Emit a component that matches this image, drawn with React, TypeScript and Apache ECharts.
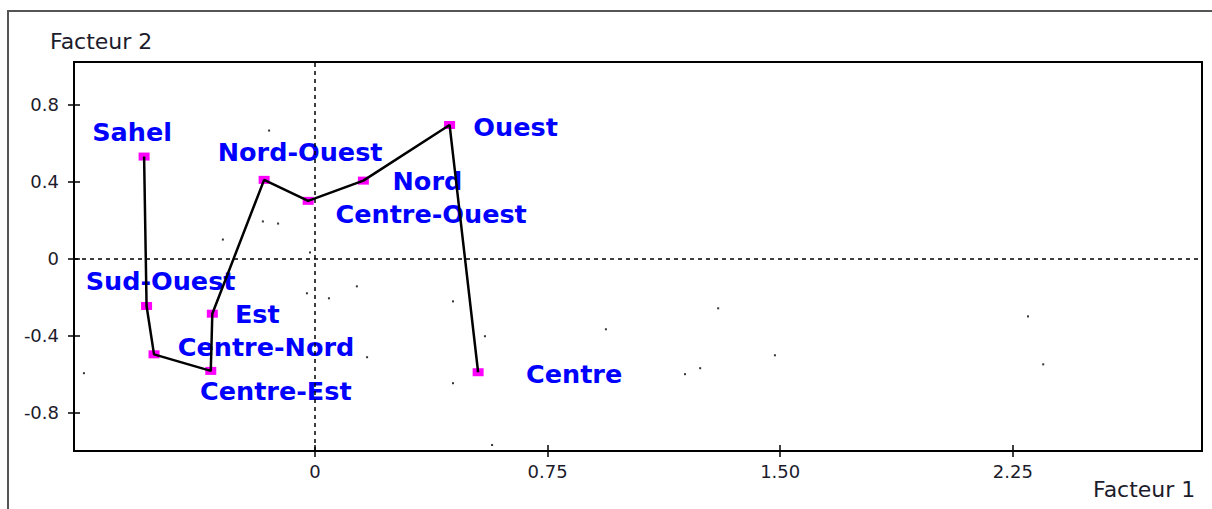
import React, { useEffect, useRef } from "react";
import * as echarts from "echarts";

const regionNames = ["Sahel", "Sud-Ouest", "Centre-Nord", "Centre-Est", "Est", "Nord-Ouest", "Centre-Ouest", "Nord", "Ouest", "Centre"];
const factor1 = [-0.551, -0.543, -0.519, -0.336, -0.331, -0.164, -0.022, 0.156, 0.434, 0.526];
const factor2 = [0.529, -0.247, -0.498, -0.584, -0.287, 0.408, 0.299, 0.404, 0.693, -0.591];

const dotsX = [-0.148, -0.168, -0.119, -0.297, -0.016, -0.026, 0.045, 0.135, 0.445, 0.168, -0.745, 0.445, 0.548, 0.938, 1.300, 1.483, 1.193, 1.242, 0.571, 2.299, 2.348];
const dotsY = [0.664, 0.192, 0.181, 0.098, 0.031, -0.181, -0.207, -0.145, -0.223, -0.513, -0.596, -0.648, -0.404, -0.368, -0.259, -0.503, -0.601, -0.570, -0.969, -0.301, -0.550];

const xTicks = [0, 0.75, 1.5, 2.25];
const xTickLabels = ["0", "0.75", "1.50", "2.25"];
const yTicks = [-0.8, -0.4, 0, 0.4, 0.8];
const yTickLabels = ["-0.8", "-0.4", "0", "0.4", "0.8"];

// label placement (pixel offsets from marker centre)
const labelOffsets: Record<string, [number, number]> = {
  "Sahel": [-12, -25],
  "Sud-Ouest": [14, -25],
  "Centre-Nord": [112, -7],
  "Centre-Est": [65, 20],
  "Est": [45, 0],
  "Nord-Ouest": [36, -28],
  "Centre-Ouest": [123, 13],
  "Nord": [64, 0],
  "Ouest": [66, 2],
  "Centre": [96, 2],
};

const FONT = "'DejaVu Sans', Arial, sans-serif";

export default function App() {
  const ref = useRef<HTMLDivElement>(null);
  useEffect(() => {
    document.body.style.margin = "0";
    const chart = echarts.init(ref.current!, undefined, { renderer: "svg" });
    const xMin = -0.777, xMax = 2.86, yMin = -1.0, yMax = 1.02;
    const axisLineStyle = { color: "#000", width: 2 };
    const labelStyle = { color: "#1c1c2c", fontSize: 18, fontFamily: FONT };

    const points = regionNames.map((n, i) => ({
      value: [factor1[i], factor2[i]],
      name: n,
      label: {
        show: true,
        formatter: n,
        position: "inside",
        offset: labelOffsets[n],
        align: "center",
        verticalAlign: "middle",
        color: "#0000ff",
        fontWeight: "bold",
        fontSize: 25.5,
        fontFamily: FONT,
      },
    }));

    chart.setOption({
      animation: false,
      backgroundColor: "#fff",
      grid: { left: 74, right: 10, top: 62, bottom: 58, show: true, borderColor: "#000", borderWidth: 2 },
      xAxis: [
        {
          type: "value", min: xMin, max: xMax, position: "bottom",
          splitLine: { show: false },
          axisLine: { show: true, onZero: false, lineStyle: axisLineStyle },
          axisTick: { show: true, customValues: xTicks, length: 6, lineStyle: { color: "#000", width: 1.5 } },
          axisLabel: {
            ...labelStyle, margin: 11, customValues: xTicks,
            formatter: (v: number) => xTickLabels[xTicks.findIndex((t) => Math.abs(t - v) < 1e-6)] ?? "",
          },
        },
        {
          type: "value", min: xMin, max: xMax, position: "bottom",
          splitLine: { show: false },
          axisLine: { show: false, onZero: false },
          axisTick: { show: true, inside: true, customValues: xTicks, length: 6, lineStyle: { color: "#000", width: 1.5 } },
          axisLabel: { show: false },
        },
      ],
      yAxis: [
        {
          type: "value", min: yMin, max: yMax, position: "left",
          splitLine: { show: false },
          axisLine: { show: true, onZero: false, lineStyle: axisLineStyle },
          axisTick: { show: true, customValues: yTicks, length: 6, lineStyle: { color: "#000", width: 1.5 } },
          axisLabel: {
            ...labelStyle, margin: 15, customValues: yTicks,
            formatter: (v: number) => yTickLabels[yTicks.findIndex((t) => Math.abs(t - v) < 1e-6)] ?? "",
          },
        },
        {
          type: "value", min: yMin, max: yMax, position: "left",
          splitLine: { show: false },
          axisLine: { show: false, onZero: false },
          axisTick: { show: true, inside: true, customValues: yTicks, length: 6, lineStyle: { color: "#000", width: 1.5 } },
          axisLabel: { show: false },
        },
      ],
      graphic: [
        { type: "rect", shape: { x: 8, y: 11, width: 1400, height: 700 }, style: { fill: "none", stroke: "#555", lineWidth: 2 }, silent: true },
        { type: "text", x: 50, y: 41, style: { text: "Facteur 2", fill: "#1c1c2c", font: `22px ${FONT}`, textVerticalAlign: "middle" } },
        { type: "text", x: 1093, y: 489, style: { text: "Facteur 1", fill: "#1c1c2c", font: `22px ${FONT}`, textVerticalAlign: "middle" } },
      ],
      series: [
        {
          type: "scatter", xAxisIndex: 0, yAxisIndex: 0,
          data: dotsX.map((x, i) => [x, dotsY[i]]),
          symbol: "rect", symbolSize: 2,
          itemStyle: { color: "#333", opacity: 1 },
          silent: true,
          markLine: {
            silent: true, symbol: "none", label: { show: false },
            lineStyle: { color: "#000", type: [4, 4], width: 1.5 },
            data: [{ xAxis: 0 }, { yAxis: 0 }],
          },
        },
        {
          type: "scatter", xAxisIndex: 0, yAxisIndex: 0,
          data: points,
          symbol: "rect", symbolSize: [11, 8],
          itemStyle: { color: "#ff00ff", opacity: 1 },
          z: 3,
        },
        {
          type: "line", xAxisIndex: 0, yAxisIndex: 0,
          data: regionNames.map((_, i) => [factor1[i], factor2[i]]),
          showSymbol: false, symbol: "none",
          lineStyle: { color: "#000", width: 2.5 },
          z: 5,
        },
      ],
    });
    return () => chart.dispose();
  }, []);
  return <div ref={ref} style={{ width: 1212, height: 509 }} />;
}
